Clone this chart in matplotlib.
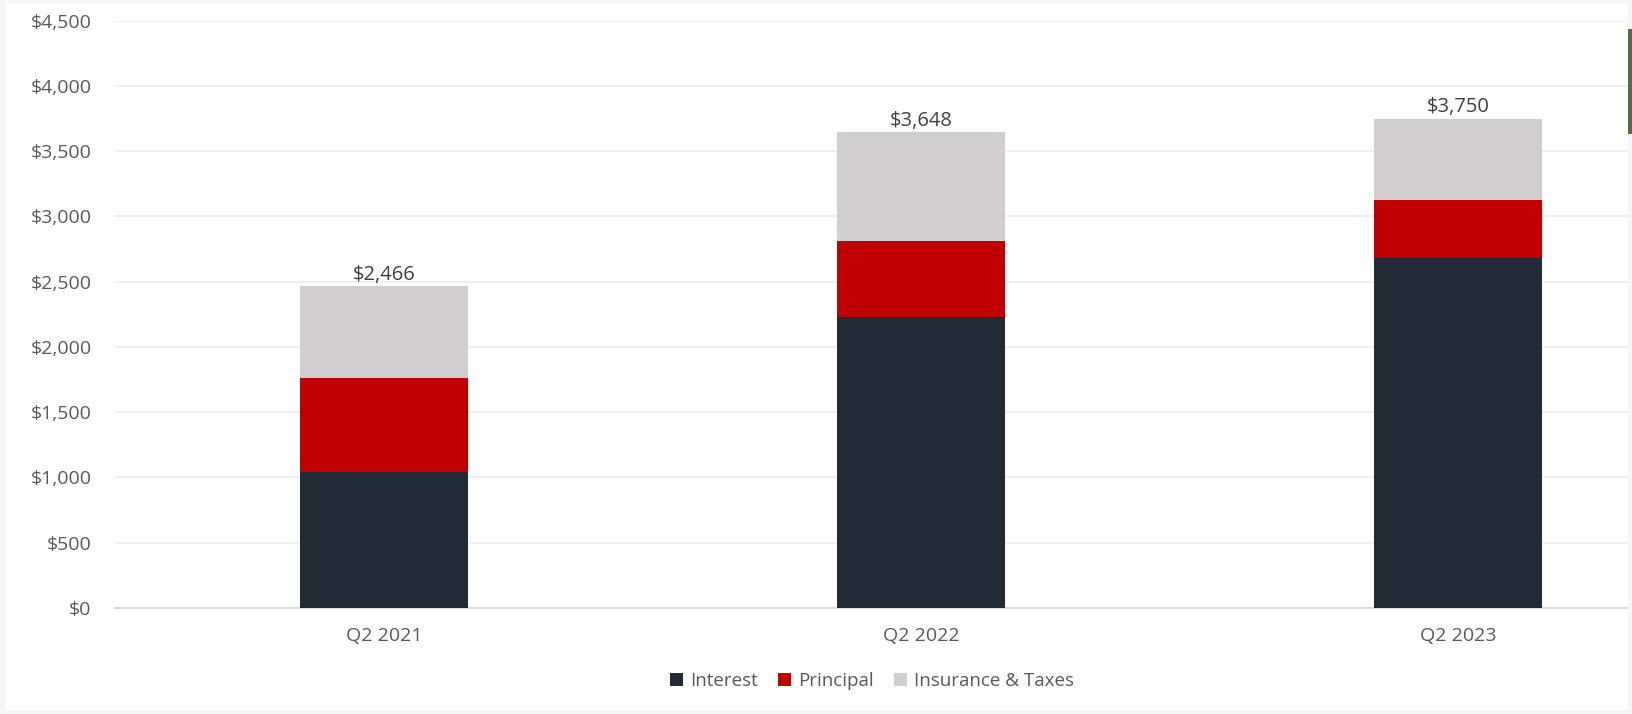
import matplotlib
matplotlib.use("Agg")
import matplotlib.pyplot as plt
from matplotlib.patches import Rectangle, Patch
from matplotlib.ticker import FuncFormatter, MultipleLocator

quarters = ["Q2 2021", "Q2 2022", "Q2 2023"]
interest = [1044, 2232, 2680]
principal = [716, 578, 444]
insurance_taxes = [706, 838, 626]
totals = [2466, 3648, 3750]

series_names = ["Interest", "Principal", "Insurance & Taxes"]
series_colors = ["#222a35", "#c00000", "#d0cece"]

plt.rcParams["font.family"] = ["Open Sans", "DejaVu Sans"]

W, H = 1633, 714
fig = plt.figure(figsize=(W / 100, H / 100), dpi=100)
fig.patch.set_facecolor("white")

# light outer frame and the accent strip on the right edge
frame = "#f6f6f6"
for x0, y0, w, h in [(0, 0, 6, H), (0, H - 3, W, 3), (0, 0, W, 4), (W - 5, 0, 5, H)]:
    fig.patches.append(Rectangle((x0 / W, y0 / H), w / W, h / H, transform=fig.transFigure,
                                 facecolor=frame, edgecolor="none", zorder=0))
fig.patches.append(Rectangle((1628 / W, (H - 134) / H), 5 / W, 105 / H, transform=fig.transFigure,
                             facecolor="#596b43", edgecolor="none", zorder=1))

ax = fig.add_axes([115 / W, (H - 608) / H, (1628 - 115) / W, (608 - 20.7) / H])
ax.set_facecolor("none")

x = list(range(len(quarters)))
width = 0.313
bottom = [0] * len(quarters)
for vals, name, col in zip([interest, principal, insurance_taxes], series_names, series_colors):
    ax.bar(x, vals, width=width, bottom=bottom, color=col, edgecolor="none", zorder=3, label=name)
    bottom = [b + v for b, v in zip(bottom, vals)]

for xi, tot in zip(x, totals):
    ax.text(xi, tot + 10, f"${tot:,}", ha="center", va="bottom", fontsize=14.5, color="#404040", zorder=4)

ax.set_ylim(0, 4500)
ax.set_xlim(-0.501, 2.317)
ax.yaxis.set_major_locator(MultipleLocator(500))
ax.yaxis.set_major_formatter(FuncFormatter(lambda v, p: f"${v:,.0f}"))
ax.set_xticks(x)
ax.set_xticklabels(quarters)
ax.tick_params(axis="both", length=0, labelsize=14, labelcolor="#595959")
ax.tick_params(axis="y", pad=17)
ax.tick_params(axis="x", pad=13.5)
ax.grid(axis="y", color="#efefef", linewidth=1.5, zorder=0)
for s in ["left", "right", "top"]:
    ax.spines[s].set_visible(False)
ax.spines["bottom"].set_color("#d9d9d9")
ax.spines["bottom"].set_linewidth(1.5)
ax.spines["bottom"].set_zorder(2)

handles = [Patch(facecolor=c, edgecolor="none", label=n) for n, c in zip(series_names, series_colors)]
fig.legend(handles=handles, loc="center", bbox_to_anchor=(872 / W, 1 - 681 / H), ncol=3,
           frameon=False, fontsize=13.5, labelcolor="#595959", handlelength=0.7, handleheight=0.7,
           handletextpad=0.35, columnspacing=1.1)

fig.savefig("out.png", dpi=100)
